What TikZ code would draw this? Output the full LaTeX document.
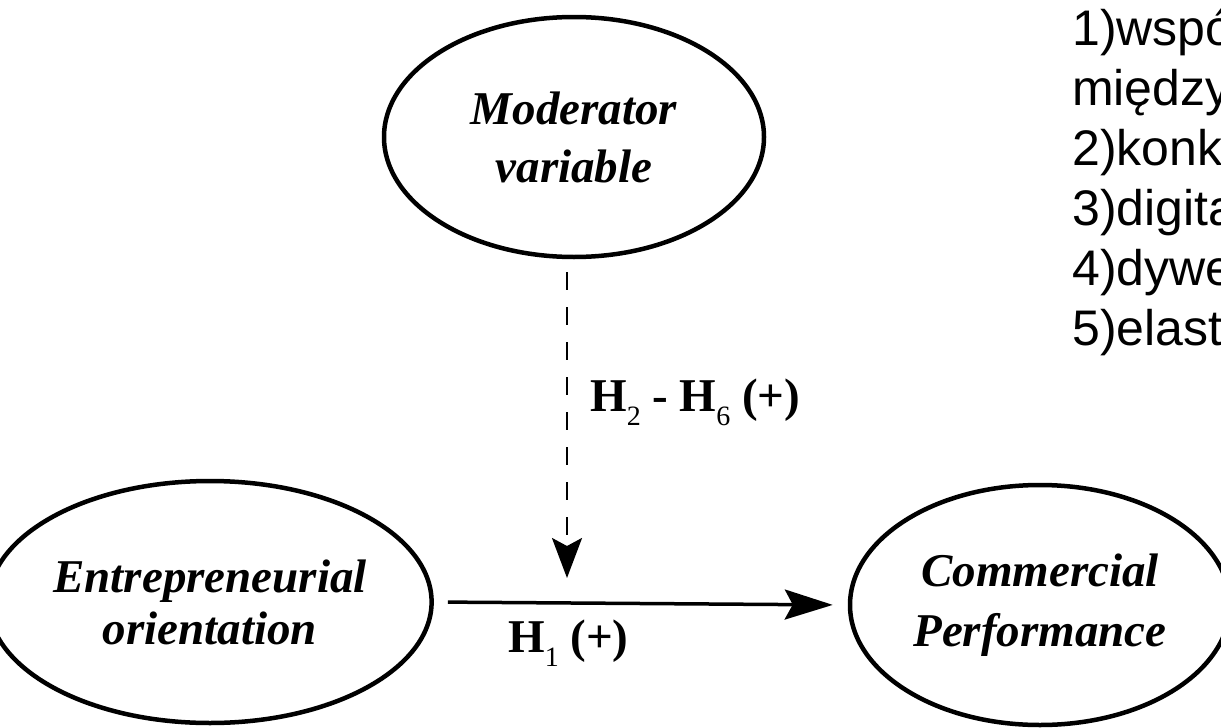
\documentclass[tikz,border=0pt]{standalone}
\usepackage{fontspec}
\newfontfamily\tnr{Liberation Serif}
\newfontfamily\arl{Liberation Sans}
\usetikzlibrary{shapes.geometric,arrows.meta}
\tikzset{
  ell/.style={draw, ellipse, line width=4.5pt, inner sep=0pt, align=center,
    font=\tnr\bfseries\itshape\fontsize{47}{56}\selectfont},
  lbl/.style={anchor=base west, inner sep=0pt, font=\tnr\bfseries\fontsize{47}{56}\selectfont},
  sidetext/.style={anchor=base west, inner sep=0pt, align=left,
    font=\arl\fontsize{50}{60}\selectfont},
  dasharrow/.style={line width=2.5pt, dash pattern=on 18pt off 17pt,
    -{Stealth[length=40pt,width=30pt,inset=8pt]}},
  solidarrow/.style={line width=3.5pt, draw=black,
    -{Stealth[length=48pt,width=30pt,inset=8pt]}}
}
\newcommand{\subs}[1]{\raisebox{-0.3em}{\fontsize{28}{28}\selectfont\mdseries #1}}
\begin{document}
\begin{tikzpicture}[x=1pt,y=-1pt]
\useasboundingbox (0,0) rectangle (1221,728);
\node[ell, minimum width=380pt, minimum height=240pt] (mod) at (574,137) {Moderator\\[2pt]variable};
\node[ell, minimum width=390pt, minimum height=242pt] (ent) at (210,602) {Entrepreneurial\\[-4pt]orientation};
\node[ell, minimum width=380pt, minimum height=240pt] (com) at (1040,605) {Commercial\\[4pt]Performance};
\coordinate (dtip) at (567,578);
\draw[dasharrow, shorten <=13pt] (mod.south -| dtip) -- (dtip);
\draw[solidarrow, shorten <=14pt, shorten >=15pt] (ent.east) -- (com.west);
\node[lbl] (h26) at (590,411) {H\subs{2} - H\subs{6} (+)};
\node[lbl] (h1) at (508,652) {H\subs{1} (+)};
\node[sidetext] (list) at (1072,345) {1)wspó\\między\\2)konk\\3)digita\\4)dywe\\5)elast};
\end{tikzpicture}
\end{document}
